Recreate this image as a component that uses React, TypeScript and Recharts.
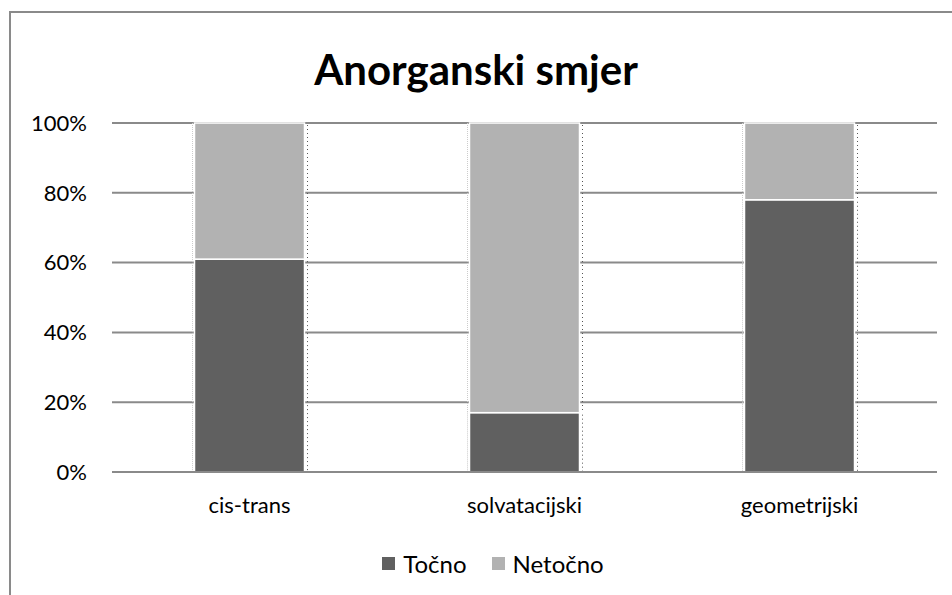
import { BarChart, Bar, XAxis, YAxis, CartesianGrid } from "recharts";

// Anorganski smjer – share of correct / incorrect answers per topic
const categories = ["cis-trans", "solvatacijski", "geometrijski"];
const tocno = [61, 17, 78];
const netocno = [39, 83, 22];
const yTicks = [0, 20, 40, 60, 80, 100];

const data = categories.map((name, i) => ({ name, tocno: tocno[i], netocno: netocno[i] }));

const DARK = "#606060";
const LIGHT = "#b2b2b2";
const FONT = "Lato, 'Open Sans', sans-serif";

// bar with white edge and the dotted shadow on its right side
const ShadowBar = (props: any) => {
  const { x, y, width, height, fill } = props;
  if (!height || height <= 0) return null;
  return (
    <g>
      <rect x={x} y={y} width={width} height={height} fill={fill} stroke="#ffffff" strokeWidth={1.5} />
      <line
        x1={x + width + 3}
        y1={y + 2}
        x2={x + width + 3}
        y2={y + height}
        stroke="#555"
        strokeWidth={1}
        strokeDasharray="1 3"
      />
      <line
        x1={x - 2}
        y1={y}
        x2={x - 2}
        y2={y + height}
        stroke="#ccc"
        strokeWidth={1}
        strokeDasharray="1 1"
      />
    </g>
  );
};

export default function App() {
  return (
    <div style={{ position: "absolute", left: 0, top: 0, width: 952, height: 595, overflow: "hidden", background: "#fff", fontFamily: FONT }}>
      <div
        style={{
          position: "absolute",
          left: 9,
          top: 11,
          width: 1000,
          height: 700,
          borderLeft: "2px solid #8a8a8a",
          borderTop: "2px solid #8a8a8a",
        }}
      />
      <div
        style={{
          position: "absolute",
          top: 41,
          left: 0,
          width: 952,
          textAlign: "center",
          fontSize: 42,
          fontWeight: 700,
          color: "#000",
          lineHeight: "56px",
        }}
      >
        Anorganski smjer
      </div>
      <div style={{ position: "absolute", left: 0, top: 0 }}>
        <BarChart
          width={952}
          height={595}
          data={data}
          stackOffset="expand"
          barCategoryGap="30%"
          margin={{ top: 123, right: 15, left: 0, bottom: 60 }}
        >
          <CartesianGrid vertical={false} stroke="#8a8a8a" strokeWidth={2} />
          <XAxis
            dataKey="name"
            axisLine={{ stroke: "#8a8a8a", strokeWidth: 2 }}
            tickLine={false}
            tickSize={0}
            tickMargin={25}
            height={63}
            tick={{ fill: "#000", fontSize: 22, fontFamily: FONT }}
          />
          <YAxis
            width={112}
            ticks={yTicks.map((t) => t / 100)}
            domain={[0, 1]}
            axisLine={false}
            tickLine={false}
            tickSize={0}
            tickMargin={25}
            tickFormatter={(v: number) => `${Math.round(v * 100)}%`}
            tick={{ fill: "#000", fontSize: 22, fontFamily: FONT }}
          />
          <Bar dataKey="tocno" stackId="a" fill={DARK} shape={<ShadowBar />} isAnimationActive={false} />
          <Bar dataKey="netocno" stackId="a" fill={LIGHT} shape={<ShadowBar />} isAnimationActive={false} />
        </BarChart>
      </div>
      <div
        style={{
          position: "absolute",
          top: 548,
          left: 0,
          width: 952,
          height: 30,
          paddingLeft: 34,
          boxSizing: "border-box",
          display: "flex",
          justifyContent: "center",
          alignItems: "center",
          fontSize: 24,
          color: "#000",
        }}
      >
        <span style={{ display: "inline-block", width: 13, height: 13, background: DARK, marginRight: 8 }} />
        <span style={{ marginRight: 25 }}>Točno</span>
        <span style={{ display: "inline-block", width: 13, height: 13, background: LIGHT, marginRight: 8 }} />
        <span>Netočno</span>
      </div>
    </div>
  );
}
